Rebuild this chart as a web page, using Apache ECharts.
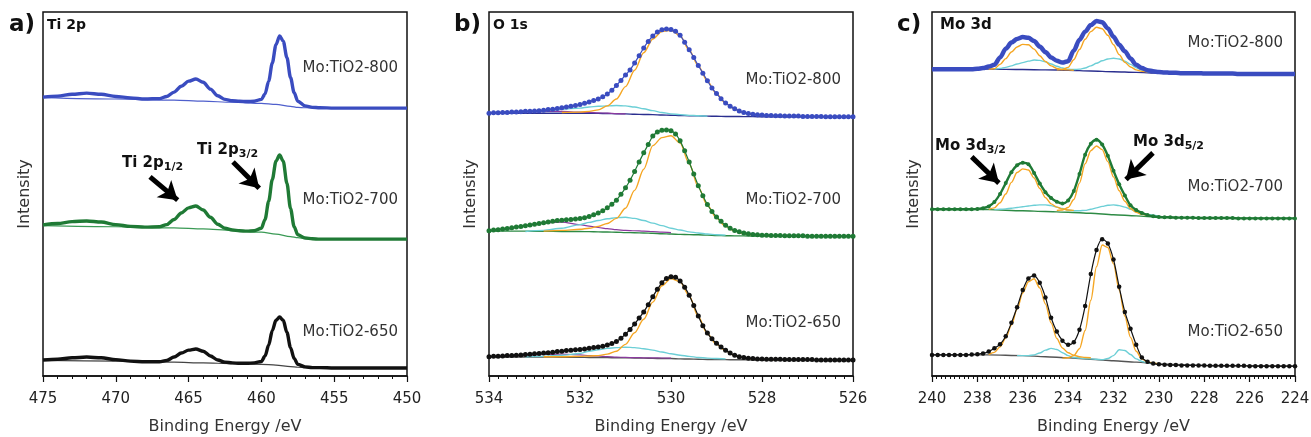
<!DOCTYPE html>
<html>
<head>
<meta charset="utf-8">
<script src="https://cdn.jsdelivr.net/npm/echarts@6/dist/echarts.min.js"></script>
<style>html,body{margin:0;background:#fff}#chart{width:1311px;height:437px}</style>
</head>
<body>
<div id="chart"></div>
<script>
// ---- a) Ti 2p ----
var tiE = [475, 474, 473, 472, 471, 470, 469, 468, 467, 466.5, 466, 465.5, 465, 464.5, 464, 463.5, 463, 462.5, 462, 461.5, 461, 460.5, 460, 459.75, 459.5, 459.25, 459, 458.75, 458.5, 458.25, 458, 457.75, 457.5, 457, 456.5, 456, 455, 454, 453, 452, 451, 450];
var ti800 = [76.6, 76.9, 77.4, 77.7, 77.4, 76.8, 76.4, 76.1, 76.2, 76.8, 78.0, 79.6, 81.0, 81.6, 80.7, 78.8, 77.0, 76.0, 75.6, 75.5, 75.4, 75.5, 76.0, 77.5, 81.0, 86.0, 91.0, 93.4, 92.0, 87.5, 82.0, 77.8, 75.5, 74.2, 73.8, 73.7, 73.6, 73.6, 73.6, 73.6, 73.6, 73.6];
var ti700 = [41.5, 41.9, 42.4, 42.6, 42.3, 41.6, 41.1, 40.9, 41.0, 41.6, 43.0, 44.8, 46.2, 46.7, 45.6, 43.6, 41.7, 40.6, 40.1, 39.9, 39.8, 39.9, 40.6, 43.0, 48.0, 54.0, 59.0, 60.7, 59.0, 53.0, 46.0, 41.0, 38.8, 37.9, 37.7, 37.6, 37.6, 37.6, 37.6, 37.6, 37.6, 37.6];
var ti650 = [4.4, 4.6, 5.0, 5.2, 5.0, 4.5, 4.1, 3.9, 3.9, 4.3, 5.2, 6.3, 7.1, 7.4, 6.8, 5.5, 4.4, 3.8, 3.6, 3.5, 3.5, 3.6, 4.0, 5.5, 8.5, 12.5, 15.3, 16.2, 15.3, 12.0, 7.8, 4.8, 3.2, 2.5, 2.3, 2.3, 2.2, 2.2, 2.2, 2.2, 2.2, 2.2];
var tiBgE = [475, 470, 466, 464, 462, 460, 459, 458, 457.5, 457, 455, 450];
var tiBg800 = [76.5, 76.1, 75.8, 75.5, 75.2, 74.9, 74.6, 74.1, 73.8, 73.7, 73.6, 73.6];
var tiBg700 = [41.3, 41.0, 40.7, 40.4, 40.0, 39.5, 39.0, 38.3, 38.0, 37.8, 37.6, 37.6];
var tiBg650 = [4.3, 4.1, 3.8, 3.6, 3.4, 3.2, 3.0, 2.6, 2.4, 2.3, 2.2, 2.2];

// ---- b) O 1s ----
var oE = [534.0, 533.9, 533.8, 533.7, 533.6, 533.5, 533.4, 533.3, 533.2, 533.1,
  533.0, 532.9, 532.8, 532.7, 532.6, 532.5, 532.4, 532.3, 532.2, 532.1,
  532.0, 531.9, 531.8, 531.7, 531.6, 531.5, 531.4, 531.3, 531.2, 531.1,
  531.0, 530.9, 530.8, 530.7, 530.6, 530.5, 530.4, 530.3, 530.2, 530.1,
  530.0, 529.9, 529.8, 529.7, 529.6, 529.5, 529.4, 529.3, 529.2, 529.1,
  529.0, 528.9, 528.8, 528.7, 528.6, 528.5, 528.4, 528.3, 528.2, 528.1,
  528.0, 527.9, 527.8, 527.7, 527.6, 527.5, 527.4, 527.3, 527.2, 527.1,
  527.0, 526.9, 526.8, 526.7, 526.6, 526.5, 526.4, 526.3, 526.2, 526.1, 526.0];
var o800 = [72.2, 72.3, 72.3, 72.4, 72.4, 72.5, 72.5, 72.6, 72.7, 72.7,
  72.8, 72.9, 73.0, 73.2, 73.3, 73.5, 73.7, 73.9, 74.1, 74.3,
  74.6, 74.9, 75.3, 75.7, 76.1, 76.7, 77.5, 78.5, 79.8, 81.2,
  82.7, 84.1, 86.0, 88.0, 90.1, 91.9, 93.4, 94.5, 95.1, 95.3,
  95.2, 94.7, 93.6, 91.7, 89.6, 87.5, 85.3, 83.2, 81.1, 79.1,
  77.6, 76.2, 75.0, 74.1, 73.4, 72.8, 72.4, 72.1, 71.9, 71.8,
  71.7, 71.6, 71.6, 71.5, 71.5, 71.4, 71.4, 71.4, 71.4, 71.3,
  71.3, 71.3, 71.3, 71.3, 71.2, 71.2, 71.2, 71.2, 71.2, 71.2, 71.2];
var o700 = [39.9, 40.1, 40.2, 40.4, 40.5, 40.7, 40.9, 41.1, 41.3, 41.5,
  41.7, 41.9, 42.1, 42.3, 42.5, 42.7, 42.8, 42.9, 43.0, 43.1,
  43.3, 43.5, 43.8, 44.3, 44.8, 45.4, 46.2, 47.2, 48.3, 49.9,
  51.7, 53.8, 56.2, 58.8, 61.3, 63.6, 65.9, 67.0, 67.5, 67.6,
  67.4, 66.5, 64.6, 61.9, 58.8, 55.5, 52.3, 49.5, 47.1, 45.2,
  43.7, 42.5, 41.4, 40.6, 40.0, 39.6, 39.3, 39.1, 38.9, 38.8,
  38.7, 38.7, 38.6, 38.6, 38.6, 38.5, 38.5, 38.5, 38.5, 38.5,
  38.4, 38.4, 38.4, 38.4, 38.4, 38.4, 38.4, 38.4, 38.4, 38.4, 38.4];
var o650 = [5.3, 5.4, 5.4, 5.5, 5.6, 5.6, 5.7, 5.8, 5.9, 6.0,
  6.1, 6.2, 6.3, 6.4, 6.5, 6.7, 6.8, 7.0, 7.1, 7.2,
  7.3, 7.4, 7.6, 7.8, 8.0, 8.2, 8.5, 8.9, 9.5, 10.4,
  11.5, 12.8, 14.3, 15.9, 17.6, 19.6, 21.8, 23.8, 25.6, 26.8,
  27.3, 27.1, 26.1, 24.4, 22.2, 19.4, 16.5, 13.8, 11.8, 10.2,
  9.0, 8.0, 7.1, 6.3, 5.7, 5.3, 5.1, 4.9, 4.8, 4.7,
  4.7, 4.6, 4.6, 4.6, 4.6, 4.5, 4.5, 4.5, 4.5, 4.5,
  4.5, 4.5, 4.4, 4.4, 4.4, 4.4, 4.4, 4.4, 4.4, 4.4, 4.4];
// fitted components, O 1s
var compE = [534.0, 533.6, 533.2, 532.8, 532.4, 532.0, 531.8, 531.6, 531.4, 531.2, 531.0, 530.8, 530.6, 530.4, 530.2, 530.0, 529.8, 529.6, 529.4, 529.2, 529.0, 528.8, 528.6, 528.4, 528.2, 528.0, 527.6, 527.0, 526.0];
var oOr800 = [null, null, null, null, 72.4, 72.5, 72.7, 73.1, 74.2, 76.1, 79.5, 84.0, 88.8, 92.6, 94.6, 95.0, 93.5, 89.5, 85.2, 81.0, 77.5, 74.9, 73.3, 72.3, 71.8, 71.6, 71.4, null, null];
var oCy800 = [null, null, 72.7, 72.9, 73.3, 73.6, 73.9, 74.1, 74.2, 74.3, 74.2, 73.9, 73.4, 72.9, 72.4, 72.0, 71.8, 71.6, 71.5, 71.4, null, null, null, null, null, null, null, null, null];
var oPu800 = [72.3, 72.4, 72.6, 72.7, 72.7, 72.5, 72.4, 72.3, 72.2, 72.1, 72.0, null, null, null, null, null, null, null, null, null, null, null, null, null, null, null, null, null, null];
var oBg800 = [72.2, 72.2, 72.2, 72.2, 72.2, 72.2, 72.2, 72.15, 72.1, 72.05, 72.0, 71.9, 71.85, 71.8, 71.7, 71.65, 71.55, 71.5, 71.45, 71.4, 71.35, 71.3, 71.3, 71.25, 71.25, 71.2, 71.2, 71.2, 71.2];
var oOr700 = [null, null, null, 39.8, 40.0, 40.3, 40.6, 41.1, 41.9, 43.3, 46.1, 51.0, 56.8, 63.3, 65.5, 66.0, 64.0, 58.3, 51.9, 46.9, 43.4, 41.1, 39.8, 39.1, 38.8, 38.6, 38.5, null, null];
var oCy700 = [null, null, 39.7, 40.0, 40.6, 41.6, 42.2, 42.7, 43.2, 43.5, 43.6, 43.3, 42.7, 42.0, 41.3, 40.6, 40.1, 39.6, 39.3, 39.0, 38.8, 38.7, null, null, null, null, null, null, null];
var oPu700 = [39.9, 40.4, 41.4, 42.1, 42.3, 41.6, 41.2, 40.8, 40.5, 40.2, 40.0, 39.9, 39.8, 39.7, 39.5, 39.4, null, null, null, null, null, null, null, null, null, null, null, null, null];
var oBg700 = [39.8, 39.8, 39.8, 39.75, 39.7, 39.7, 39.65, 39.6, 39.55, 39.5, 39.4, 39.35, 39.3, 39.2, 39.1, 39.0, 38.9, 38.85, 38.8, 38.7, 38.6, 38.55, 38.5, 38.5, 38.45, 38.45, 38.4, 38.4, 38.4];
var oOr650 = [null, null, null, 5.3, 5.3, 5.4, 5.5, 5.6, 6.0, 6.8, 8.7, 11.9, 15.6, 20.3, 24.8, 26.8, 25.9, 22.0, 16.3, 11.6, 8.7, 6.9, 5.6, 5.0, 4.7, 4.6, 4.5, null, null];
var oCy650 = [null, null, 5.3, 5.4, 5.7, 6.2, 6.8, 7.2, 7.6, 7.8, 7.9, 7.8, 7.5, 7.1, 6.6, 6.1, 5.7, 5.4, 5.1, 4.9, 4.8, 4.7, null, null, null, null, null, null, null];
var oPu650 = [5.3, 5.5, 5.7, 5.9, 6.0, 5.8, 5.6, 5.5, 5.3, 5.2, 5.1, 5.05, 5.0, 5.0, 4.95, 4.9, null, null, null, null, null, null, null, null, null, null, null, null, null];
var oBg650 = [5.2, 5.2, 5.2, 5.2, 5.15, 5.15, 5.1, 5.1, 5.05, 5.0, 5.0, 4.95, 4.9, 4.85, 4.8, 4.8, 4.7, 4.65, 4.6, 4.55, 4.5, 4.5, 4.45, 4.45, 4.4, 4.4, 4.4, 4.35, 4.35];

// ---- c) Mo 3d ----
var moE = [240, 239.75, 239.5, 239.25, 239, 238.75, 238.5, 238.25, 238, 237.75, 237.5, 237.25, 237, 236.75, 236.5, 236.25,
  236, 235.75, 235.5, 235.25, 235, 234.75, 234.5, 234.25, 234, 233.75, 233.5, 233.25, 233, 232.75, 232.5, 232.25,
  232, 231.75, 231.5, 231.25, 231, 230.75, 230.5, 230.25, 230, 229.75, 229.5, 229.25, 229, 228.75, 228.5, 228.25,
  228, 227.75, 227.5, 227.25, 227, 226.75, 226.5, 226.25, 226, 225.75, 225.5, 225.25, 225, 224.75, 224.5, 224.25, 224];
var mo800 = [84.3, 84.3, 84.3, 84.3, 84.3, 84.3, 84.3, 84.3, 84.4, 84.6, 85.0, 85.5, 87.5, 89.9, 91.6, 92.6,
  93.1, 92.9, 92.0, 90.5, 89.0, 87.5, 86.6, 86.1, 86.5, 89.4, 92.4, 94.6, 96.4, 97.5, 97.2, 95.5,
  93.2, 91.0, 89.2, 87.2, 85.5, 84.6, 84.0, 83.7, 83.5, 83.4, 83.3, 83.3, 83.2, 83.2, 83.2, 83.2,
  83.1, 83.1, 83.1, 83.1, 83.1, 83.1, 83.0, 83.0, 83.0, 83.0, 83.0, 83.0, 83.0, 83.0, 83.0, 83.0, 83.0];
var mo700 = [45.8, 45.8, 45.8, 45.8, 45.8, 45.8, 45.8, 45.8, 45.9, 46.1, 46.6, 47.8, 50.0, 53.0, 56.0, 57.9,
  58.6, 58.2, 55.8, 52.9, 50.5, 48.9, 47.9, 47.4, 48.2, 50.8, 55.5, 60.8, 63.8, 64.9, 63.6, 60.5,
  56.4, 52.7, 49.6, 46.9, 45.6, 44.8, 44.2, 43.9, 43.7, 43.6, 43.6, 43.5, 43.5, 43.5, 43.5, 43.4,
  43.4, 43.4, 43.4, 43.4, 43.4, 43.4, 43.3, 43.3, 43.3, 43.3, 43.3, 43.3, 43.3, 43.3, 43.3, 43.3, 43.3];
var mo650 = [5.8, 5.8, 5.8, 5.8, 5.8, 5.8, 5.8, 5.9, 6.0, 6.2, 6.7, 7.6, 8.7, 10.9, 14.6, 18.9,
  23.6, 26.8, 27.6, 25.6, 21.6, 16.0, 12.2, 9.7, 8.6, 9.3, 12.7, 19.2, 28.0, 34.6, 37.6, 36.4,
  32.0, 24.5, 17.6, 13.0, 8.6, 5.1, 3.9, 3.4, 3.2, 3.1, 3.0, 3.0, 2.9, 2.9, 2.9, 2.9,
  2.9, 2.8, 2.8, 2.8, 2.8, 2.8, 2.8, 2.8, 2.7, 2.7, 2.7, 2.7, 2.7, 2.7, 2.7, 2.7, 2.7];
// fitted components, Mo 3d
var mcE = [238.0, 237.5, 237.25, 237.0, 236.75, 236.5, 236.25, 236.0, 235.75, 235.5, 235.25, 235.0, 234.75, 234.5, 234.25, 234.0,
  233.75, 233.5, 233.25, 233.0, 232.75, 232.5, 232.25, 232.0, 231.75, 231.5, 231.25, 231.0, 230.75, 230.5, 230.0];
var mOrA800 = [null, 84.35, 84.4, 85.6, 87.2, 89.0, 90.4, 91.1, 91.0, 89.8, 88.0, 86.4, 85.2, 84.5, 84.2, 84.1, 84.0, null, null, null, null, null, null, null, null, null, null, null, null, null, null];
var mOrB800 = [null, null, null, null, null, null, null, null, null, null, null, null, null, 84.1, 84.2, 84.8, 86.9, 89.7, 92.5, 94.6, 95.8, 95.4, 93.6, 91.0, 88.3, 86.2, 84.9, 84.1, 83.7, 83.6, null];
var mCy800 = [null, null, 84.35, 84.5, 84.8, 85.2, 85.7, 86.1, 86.5, 86.8, 86.7, 86.3, 85.7, 85.1, 84.6, 84.3, 84.2, 84.3, 84.6, 85.2, 85.9, 86.6, 87.1, 87.3, 87.1, 86.5, 85.6, 84.7, 84.0, 83.6, 83.4];
var mOrA700 = [null, 45.8, 46.2, 47.6, 50.0, 53.2, 55.9, 56.9, 56.6, 54.4, 51.5, 49.0, 47.3, 46.4, 45.9, 45.6, 45.5, null, null, null, null, null, null, null, null, null, null, null, null, null, null];
var mOrB700 = [null, null, null, null, null, null, null, null, null, null, null, null, null, 45.5, 45.6, 46.3, 48.5, 53.0, 58.3, 61.9, 63.2, 62.2, 58.9, 54.7, 50.9, 48.0, 46.0, 45.0, 44.4, 44.1, null];
var mCy700 = [null, null, 45.7, 45.8, 45.9, 46.1, 46.3, 46.5, 46.7, 46.9, 47.0, 47.0, 46.8, 46.4, 46.0, 45.6, 45.4, 45.4, 45.5, 45.8, 46.2, 46.6, 46.9, 47.0, 46.8, 46.4, 45.8, 45.2, 44.7, 44.3, 43.9];
var mOrA650 = [null, 5.9, 6.5, 8.0, 10.4, 14.0, 18.4, 22.8, 25.9, 26.7, 24.2, 19.8, 14.6, 10.3, 7.7, 6.4, 5.7, 5.3, 5.1, 5.0, null, null, null, null, null, null, null, null, null, null, null];
var mOrB650 = [null, null, null, null, null, null, null, null, null, null, null, null, null, null, 4.9, 5.0, 5.6, 7.5, 12.5, 20.8, 30.0, 36.0, 35.3, 30.8, 23.6, 16.4, 10.6, 6.8, 4.7, 3.8, 3.3];
var mCy650 = [null, null, null, null, null, null, 5.6, 5.6, 5.6, 5.8, 6.3, 7.1, 7.6, 7.3, 6.4, 5.6, 5.1, 4.9, 4.8, 4.7, 4.6, 4.5, 4.8, 5.6, 7.2, 7.0, 5.9, 4.7, 4.0, 3.6, 3.3];
var mbE = [240, 237.5, 236, 235, 234, 233, 232, 231, 230, 228, 224];
var mBg800 = [84.3, 84.3, 84.2, 84.1, 84.0, 83.8, 83.6, 83.4, 83.2, 83.05, 83.0];
var mBg700 = [45.8, 45.7, 45.4, 45.2, 45.0, 44.7, 44.3, 44.0, 43.6, 43.4, 43.3];
var mBg650 = [5.8, 5.8, 5.6, 5.3, 5.0, 4.6, 4.2, 3.8, 3.3, 2.9, 2.7];

var sampleNames = ['Mo:TiO2-800', 'Mo:TiO2-700', 'Mo:TiO2-650'];

var BLUE = '#3a4cc0', GREEN = '#1f7a35', BLACK = '#111111';
var ORANGE = '#f5a623', CYAN = '#6ccfd6', PURPLE = '#8b3a9e';
var FONT = 'DejaVu Sans';

function pts(xs, ys) {
  return xs.map(function (x, i) { return [x, ys[i] == null ? '-' : ys[i]]; });
}
function curve(ax, xs, ys, color, width, z) {
  return {
    type: 'line', xAxisIndex: ax, yAxisIndex: ax, data: pts(xs, ys),
    symbol: 'none', smooth: 0.3, smoothMonotone: 'x', z: z || 2, silent: true,
    lineStyle: { color: color, width: width }
  };
}
function dots(ax, xs, ys, color, width, size) {
  return {
    type: 'line', xAxisIndex: ax, yAxisIndex: ax, data: pts(xs, ys),
    symbol: 'circle', symbolSize: size, showSymbol: true, smooth: 0.3, z: 4, silent: true,
    itemStyle: { color: color }, lineStyle: { color: color, width: width }
  };
}
function arrows(ax, list) {
  return {
    type: 'line', xAxisIndex: ax, yAxisIndex: ax, data: [], silent: true, z: 6,
    markLine: {
      silent: true, symbol: ['none', 'arrow'], symbolSize: [17, 18],
      label: { show: false }, emphasis: { disabled: true },
      lineStyle: { color: '#000', width: 5, type: 'solid' },
      data: list.map(function (a) { return [{ coord: [a[0], a[1]] }, { coord: [a[2], a[3]] }]; })
    }
  };
}

function xAxis(i, min, max, step, minorSplit) {
  return {
    gridIndex: i, type: 'value', inverse: true, min: min, max: max, interval: step,
    name: 'Binding Energy /eV', nameLocation: 'middle', nameGap: 43,
    nameTextStyle: { fontFamily: FONT, fontSize: 16, color: '#333' },
    axisLine: { lineStyle: { color: '#111', width: 1.5 } },
    axisTick: { inside: false, length: 6, lineStyle: { color: '#111', width: 1.2 } },
    minorTick: { show: true, splitNumber: minorSplit, length: 3, lineStyle: { color: '#111', width: 1 } },
    axisLabel: { fontFamily: FONT, fontSize: 15, color: '#222', margin: 16 },
    splitLine: { show: false }
  };
}
function yAxis(i) {
  return {
    gridIndex: i, type: 'value', min: 0, max: 100,
    name: 'Intensity', nameLocation: 'middle', nameRotate: 90, nameGap: 10,
    nameTextStyle: { fontFamily: FONT, fontSize: 16, color: '#333' },
    axisLine: { show: false }, axisTick: { show: false }, axisLabel: { show: false },
    splitLine: { show: false }
  };
}
function grid(left, width) {
  return { left: left, top: 12, width: width, height: 364, show: true,
    borderColor: '#111', borderWidth: 1.5, backgroundColor: 'transparent', outerBoundsMode: 'none' };
}
function txt(x, y, s, size, weight, align) {
  return { type: 'text', x: x, y: y, silent: true, z: 10,
    style: { text: s, fill: weight === 'bold' ? '#111' : '#333', fontFamily: FONT, fontSize: size,
      fontWeight: weight || 'normal', align: align || 'left', verticalAlign: 'middle' } };
}
function subTxt(x, y, main, sub) {
  return { type: 'text', x: x, y: y, silent: true, z: 10,
    style: { text: '{b|' + main + '}{s|' + sub + '}', align: 'left', verticalAlign: 'middle',
      rich: {
        b: { fontFamily: FONT, fontSize: 15, fontWeight: 'bold', fill: '#111', color: '#111' },
        s: { fontFamily: FONT, fontSize: 11, fontWeight: 'bold', fill: '#111', color: '#111', padding: [9, 0, 0, 0] }
      } } };
}

var series = [
  // a) Ti 2p
  curve(0, tiBgE, tiBg800, '#4f5fcc', 1.2), curve(0, tiBgE, tiBg700, '#3a9a55', 1.2), curve(0, tiBgE, tiBg650, '#444', 1.2),
  curve(0, tiE, ti800, BLUE, 3.4, 4), curve(0, tiE, ti700, GREEN, 3.4, 4), curve(0, tiE, ti650, BLACK, 3.4, 4),
  arrows(0, [[467.65, 54.7, 465.75, 48.3], [461.95, 58.8, 460.15, 51.6]]),
  // b) O 1s
  curve(1, compE, oBg800, '#2b2f8f', 1.4), curve(1, compE, oPu800, PURPLE, 1.2), curve(1, compE, oCy800, CYAN, 1.4), curve(1, compE, oOr800, ORANGE, 1.4),
  dots(1, oE, o800, BLUE, 1.2, 5),
  curve(1, compE, oBg700, '#2e8b45', 1.4), curve(1, compE, oPu700, PURPLE, 1.2), curve(1, compE, oCy700, CYAN, 1.4), curve(1, compE, oOr700, ORANGE, 1.4),
  dots(1, oE, o700, GREEN, 1.2, 5),
  curve(1, compE, oBg650, '#555', 1.4), curve(1, compE, oPu650, PURPLE, 1.2), curve(1, compE, oCy650, CYAN, 1.4), curve(1, compE, oOr650, ORANGE, 1.4),
  dots(1, oE, o650, BLACK, 1.2, 5),
  // c) Mo 3d
  curve(2, mbE, mBg800, '#2b2f8f', 1.4), curve(2, mcE, mCy800, CYAN, 1.4), curve(2, mcE, mOrA800, ORANGE, 1.4), curve(2, mcE, mOrB800, ORANGE, 1.4),
  curve(2, moE, mo800, BLUE, 4.5, 3),
  curve(2, mbE, mBg700, '#2e8b45', 1.4), curve(2, mcE, mCy700, CYAN, 1.4), curve(2, mcE, mOrA700, ORANGE, 1.4), curve(2, mcE, mOrB700, ORANGE, 1.4),
  dots(2, moE, mo700, GREEN, 2.4, 4),
  curve(2, mbE, mBg650, '#555', 1.4), curve(2, mcE, mCy650, CYAN, 1.4), curve(2, mcE, mOrA650, ORANGE, 1.4), curve(2, mcE, mOrB650, ORANGE, 1.4),
  dots(2, moE, mo650, BLACK, 1.2, 4.5),
  arrows(2, [[238.25, 60.2, 237.05, 53.0], [230.26, 61.3, 231.45, 54.0]])
];

var graphics = [
  txt(9, 25, 'a)', 23, 'bold'), txt(454, 25, 'b)', 23, 'bold'), txt(897, 25, 'c)', 23, 'bold'),
  txt(47, 25, 'Ti 2p', 14, 'bold'), txt(493, 25, 'O 1s', 14, 'bold'), txt(940, 25, 'Mo 3d', 15, 'bold'),
  txt(398, 68, sampleNames[0], 15, 'normal', 'right'),
  txt(398, 200, sampleNames[1], 15, 'normal', 'right'),
  txt(398, 332, sampleNames[2], 15, 'normal', 'right'),
  txt(841, 80, sampleNames[0], 15, 'normal', 'right'),
  txt(841, 200, sampleNames[1], 15, 'normal', 'right'),
  txt(841, 323, sampleNames[2], 15, 'normal', 'right'),
  txt(1283, 43, sampleNames[0], 15, 'normal', 'right'),
  txt(1283, 187, sampleNames[1], 15, 'normal', 'right'),
  txt(1283, 332, sampleNames[2], 15, 'normal', 'right'),
  subTxt(122, 163, 'Ti 2p', '1/2'), subTxt(197, 150, 'Ti 2p', '3/2'),
  subTxt(935, 146, 'Mo 3d', '3/2'), subTxt(1133, 142, 'Mo 3d', '5/2')
];

var option = {
  animation: false,
  backgroundColor: '#fff',
  grid: [grid(43, 364), grid(489, 364), grid(932, 363)],
  xAxis: [xAxis(0, 450, 475, 5, 5), xAxis(1, 526, 534, 2, 10), xAxis(2, 224, 240, 2, 10)],
  yAxis: [yAxis(0), yAxis(1), yAxis(2)],
  series: series,
  graphic: graphics
};

var chart = echarts.init(document.getElementById('chart'));
chart.setOption(option);
</script>
</body>
</html>
